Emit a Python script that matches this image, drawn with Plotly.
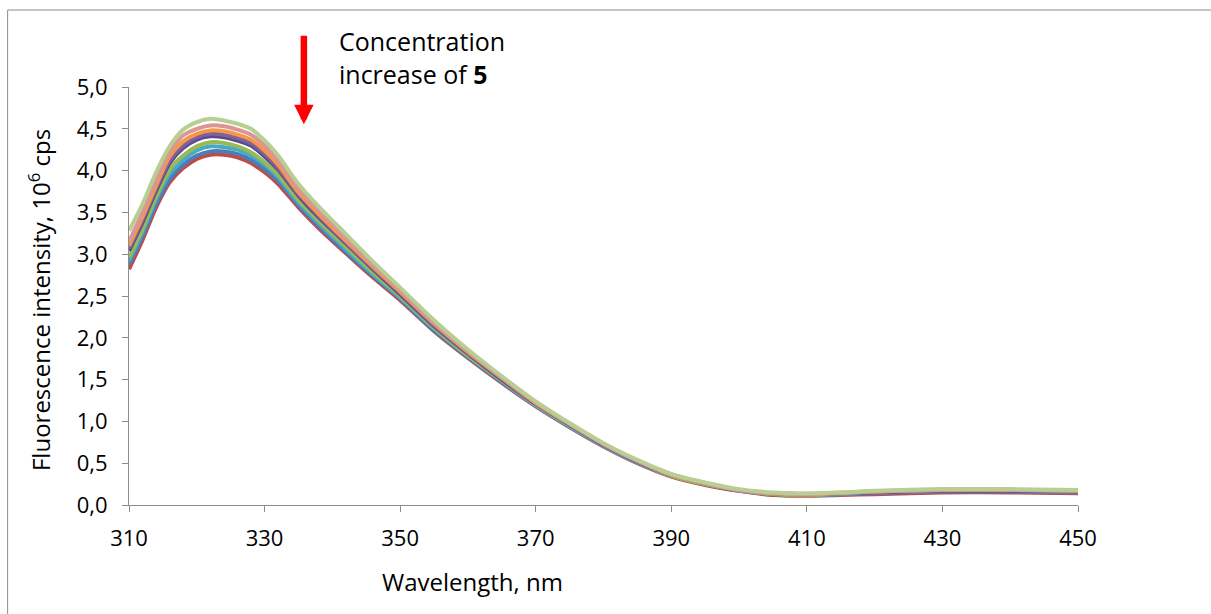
import plotly.graph_objects as go

# Wavelength grid (nm)
wavelength = [310, 312, 314, 316, 318, 320, 322, 324, 326, 328, 330, 332, 335, 338, 342, 346,
              350, 355, 360, 365, 370, 375, 380, 385, 390, 395, 400, 405, 410, 415, 420, 430, 440, 450]

# Fluorescence intensity (10^6 cps), one list per spectrum
s_darkred = [2.82, 3.17, 3.56, 3.86, 4.03, 4.14, 4.19, 4.19, 4.16, 4.09, 3.98, 3.84, 3.56, 3.31, 3.01, 2.72,
             2.45, 2.08, 1.76, 1.46, 1.18, 0.93, 0.70, 0.50, 0.34, 0.24, 0.17, 0.12, 0.11, 0.12, 0.13, 0.15, 0.15, 0.14]
s_blue = [2.88, 3.22, 3.60, 3.90, 4.07, 4.18, 4.23, 4.23, 4.20, 4.13, 4.02, 3.88, 3.59, 3.34, 3.03, 2.74,
          2.47, 2.09, 1.77, 1.47, 1.19, 0.94, 0.71, 0.51, 0.35, 0.25, 0.17, 0.13, 0.12, 0.13, 0.14, 0.16, 0.16, 0.15]
s_aqua = [2.92, 3.27, 3.66, 3.96, 4.13, 4.24, 4.29, 4.28, 4.25, 4.18, 4.07, 3.92, 3.62, 3.37, 3.06, 2.76,
          2.48, 2.11, 1.78, 1.48, 1.19, 0.94, 0.71, 0.51, 0.35, 0.25, 0.18, 0.13, 0.12, 0.13, 0.15, 0.17, 0.17, 0.16]
s_green = [2.96, 3.30, 3.69, 4.01, 4.18, 4.29, 4.34, 4.33, 4.29, 4.22, 4.10, 3.95, 3.65, 3.40, 3.09, 2.78,
           2.50, 2.12, 1.79, 1.49, 1.20, 0.95, 0.72, 0.52, 0.35, 0.25, 0.18, 0.13, 0.12, 0.14, 0.15, 0.17, 0.17, 0.16]
s_darkpurple = [3.04, 3.38, 3.76, 4.09, 4.27, 4.37, 4.41, 4.40, 4.36, 4.30, 4.17, 4.01, 3.70, 3.44, 3.13, 2.82,
                2.52, 2.14, 1.81, 1.50, 1.21, 0.96, 0.72, 0.52, 0.36, 0.26, 0.18, 0.14, 0.13, 0.14, 0.15, 0.17, 0.17, 0.16]
s_purple = [3.07, 3.41, 3.79, 4.12, 4.30, 4.40, 4.44, 4.43, 4.39, 4.33, 4.20, 4.03, 3.72, 3.46, 3.14, 2.83,
            2.54, 2.15, 1.82, 1.51, 1.21, 0.96, 0.72, 0.52, 0.36, 0.26, 0.18, 0.14, 0.13, 0.14, 0.16, 0.18, 0.18, 0.17]
s_orange = [3.10, 3.45, 3.82, 4.17, 4.35, 4.44, 4.48, 4.47, 4.43, 4.37, 4.24, 4.07, 3.74, 3.48, 3.16, 2.85,
            2.55, 2.17, 1.83, 1.52, 1.22, 0.97, 0.73, 0.53, 0.36, 0.26, 0.18, 0.14, 0.13, 0.14, 0.16, 0.18, 0.18, 0.17]
s_pink = [3.15, 3.50, 3.88, 4.23, 4.42, 4.50, 4.54, 4.53, 4.49, 4.43, 4.30, 4.12, 3.78, 3.52, 3.19, 2.87,
          2.57, 2.18, 1.84, 1.53, 1.23, 0.97, 0.73, 0.53, 0.37, 0.26, 0.18, 0.14, 0.13, 0.15, 0.16, 0.18, 0.18, 0.17]
s_lightgreen = [3.28, 3.60, 3.98, 4.29, 4.49, 4.58, 4.62, 4.60, 4.56, 4.50, 4.36, 4.18, 3.84, 3.57, 3.24, 2.91,
                2.60, 2.21, 1.86, 1.54, 1.24, 0.98, 0.74, 0.54, 0.37, 0.27, 0.19, 0.15, 0.14, 0.15, 0.17, 0.19, 0.19, 0.18]

series = [s_darkred, s_blue, s_aqua, s_green, s_darkpurple, s_purple, s_orange, s_pink, s_lightgreen]
colors = ["#BE4B48", "#4A7EBB", "#46AAC5", "#98B954", "#5C4A8C", "#7D60A0", "#F79646", "#D99694", "#B7CF92"]

x_ticks = [310, 330, 350, 370, 390, 410, 430, 450]
y_ticks = [0.0, 0.5, 1.0, 1.5, 2.0, 2.5, 3.0, 3.5, 4.0, 4.5, 5.0]
y_ticklabels = ["0,0", "0,5", "1,0", "1,5", "2,0", "2,5", "3,0", "3,5", "4,0", "4,5", "5,0"]

FONT = "Open Sans"

fig = go.Figure()
for vals, col in zip(series, colors):
    fig.add_trace(go.Scatter(x=wavelength, y=vals, mode="lines",
                             line=dict(color=col, width=4, shape="spline", smoothing=0.7),
                             showlegend=False, hoverinfo="skip"))

axis_col = "#8C8C8C"
fig.update_layout(
    width=1211, height=614, autosize=False,
    margin=dict(l=129, r=133, t=87, b=109),
    paper_bgcolor="white", plot_bgcolor="white",
    font=dict(family=FONT, color="#000000"),
    showlegend=False,
    xaxis=dict(range=[310, 450], tickvals=x_ticks, ticktext=[str(v) for v in x_ticks],
               showgrid=False, zeroline=False, showline=True, linecolor=axis_col, linewidth=1,
               ticks="outside", ticklen=6, tickcolor=axis_col, tickwidth=1,
               tickfont=dict(family=FONT, size=22, color="#000000"), ticklabelstandoff=8),
    yaxis=dict(range=[0, 5], tickvals=y_ticks, ticktext=y_ticklabels,
               showgrid=False, zeroline=False, showline=True, linecolor=axis_col, linewidth=1,
               ticks="outside", ticklen=6, tickcolor=axis_col, tickwidth=1,
               tickfont=dict(family=FONT, size=22, color="#000000"), ticklabelstandoff=10),
    shapes=[dict(type="rect", xref="paper", yref="paper",
                 x0=-0.1279, x1=1.2, y0=-0.5, y1=1.1842,
                 line=dict(color="#8C8C8C", width=1), fillcolor="rgba(0,0,0,0)", layer="below")],
    annotations=[
        dict(text="Fluorescence intensity, 10<sup>6</sup> cps", textangle=-90,
             xref="paper", yref="paper", x=-0.095, y=0.49, xanchor="center", yanchor="middle",
             showarrow=False, font=dict(family=FONT, size=24, color="#000000")),
        dict(text="Wavelength, nm", xref="paper", yref="paper", x=0.3618, y=-0.182,
             xanchor="center", yanchor="middle", showarrow=False,
             font=dict(family=FONT, size=24, color="#000000")),
        dict(text="Concentration<br>increase of <b>5</b>", xref="paper", yref="paper",
             x=0.2195, y=1.0706, xanchor="left", yanchor="middle", align="left",
             showarrow=False, font=dict(family=FONT, size=25, color="#000000")),
        dict(text="", xref="x", yref="y", x=335.8, y=4.554,
             axref="x", ayref="y", ax=335.8, ay=5.63,
             showarrow=True, arrowhead=2, arrowsize=0.6, arrowwidth=6.5, arrowcolor="#FF0000"),
    ],
)

fig.write_html("out.html")
